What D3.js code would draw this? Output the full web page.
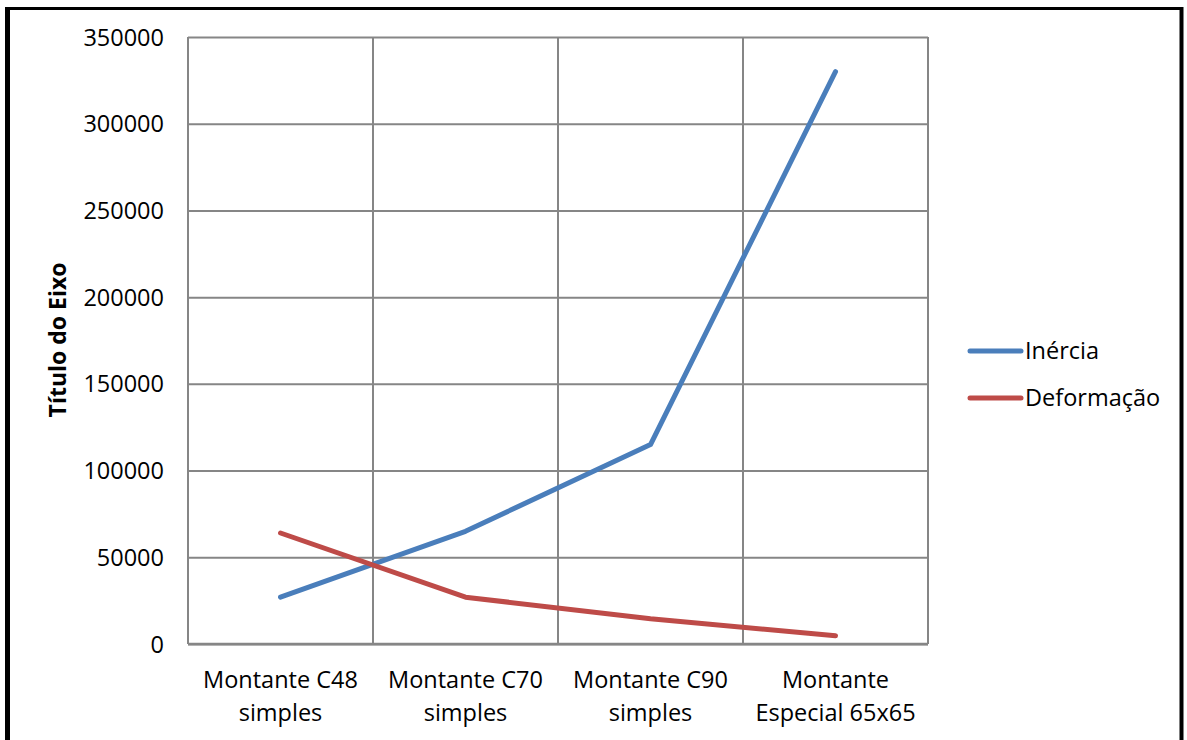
<!DOCTYPE html>
<html>
<head>
<meta charset="utf-8">
<script src="https://cdn.jsdelivr.net/npm/d3@7"></script>
<style>
  html, body { margin: 0; padding: 0; background: #fff; }
  svg { display: block; }
  text { font-family: "Open Sans", "Noto Sans", sans-serif; fill: #000; }
</style>
</head>
<body>
<svg id="chart" width="1187" height="740"></svg>
<script>
const categories = [
  ["Montante C48", "simples"],
  ["Montante C70", "simples"],
  ["Montante C90", "simples"],
  ["Montante", "Especial 65x65"]
];
const categoryKeys = ["C48", "C70", "C90", "E65"];
const inercia = [27000, 65000, 115000, 330000];
const deformacao = [64000, 27000, 14500, 4800];
const yTicks = [0, 50000, 100000, 150000, 200000, 250000, 300000, 350000];
const seriesNames = ["Inércia", "Deformação"];
const seriesColors = ["#4A7EBB", "#BE4B48"];
const yTitle = "Título do Eixo";

const svg = d3.select("#chart");
const W = 1187, H = 740;
const m = { left: 188, right: 928, top: 37, bottom: 644 };
const FS = 23.5;

// outer frame
svg.append("line").attr("x1", 7.5).attr("x2", 7.5).attr("y1", 7).attr("y2", H + 5)
  .attr("stroke", "#000").attr("stroke-width", 5);
svg.append("line").attr("x1", 5).attr("x2", 1183).attr("y1", 8.5).attr("y2", 8.5)
  .attr("stroke", "#000").attr("stroke-width", 3);
svg.append("line").attr("x1", 1181.5).attr("x2", 1181.5).attr("y1", 7).attr("y2", H + 5)
  .attr("stroke", "#000").attr("stroke-width", 4);

const x = d3.scaleBand().domain(categoryKeys).range([m.left, m.right]).padding(0);
const y = d3.scaleLinear().domain([0, 350000]).range([m.bottom, m.top]);
const cx = k => x(k) + x.bandwidth() / 2;

// horizontal gridlines + y labels
const yAxis = d3.axisLeft(y).tickValues(yTicks).tickSize(-(m.right - m.left)).tickFormat(d3.format("d")).tickPadding(24);
const gy = svg.append("g").attr("transform", `translate(${m.left},0)`).call(yAxis);
gy.select(".domain").remove();
gy.selectAll(".tick line").attr("stroke", "#868686").attr("stroke-width", 2);
gy.selectAll(".tick text").attr("font-size", FS).attr("fill", "#000").attr("dy", "0.34em");

// vertical gridlines at category boundaries
const bounds = categoryKeys.map(k => x(k)).concat([m.right]);
svg.append("g").selectAll("line").data(bounds).join("line")
  .attr("x1", d => d).attr("x2", d => d).attr("y1", m.top).attr("y2", m.bottom)
  .attr("stroke", "#868686").attr("stroke-width", 2);

// axis baseline
svg.append("line").attr("x1", m.left).attr("x2", m.right).attr("y1", m.bottom).attr("y2", m.bottom)
  .attr("stroke", "#868686").attr("stroke-width", 2.5);

// x labels
const gx = svg.append("g");
categoryKeys.forEach((k, i) => {
  const t = gx.append("text").attr("x", cx(k)).attr("text-anchor", "middle").attr("font-size", FS);
  t.append("tspan").attr("x", cx(k)).attr("y", 688).text(categories[i][0]);
  t.append("tspan").attr("x", cx(k)).attr("y", 721).text(categories[i][1]);
});

// lines
const line = d3.line().x((d, i) => cx(categoryKeys[i])).y(d => y(d));
[inercia, deformacao].forEach((s, j) => {
  svg.append("path").datum(s).attr("d", line)
    .attr("fill", "none").attr("stroke", seriesColors[j]).attr("stroke-width", 5)
    .attr("stroke-linecap", "round").attr("stroke-linejoin", "round");
});

// y title
svg.append("text").attr("transform", "translate(66,340) rotate(-90)")
  .attr("text-anchor", "middle").attr("font-size", 23).attr("font-weight", "bold").text(yTitle);

// legend
const legY = [351, 398];
seriesNames.forEach((n, j) => {
  svg.append("line").attr("x1", 970).attr("x2", 1021).attr("y1", legY[j]).attr("y2", legY[j])
    .attr("stroke", seriesColors[j]).attr("stroke-width", 5).attr("stroke-linecap", "round");
  svg.append("text").attr("x", 1025).attr("y", legY[j]).attr("dy", "0.35em")
    .attr("font-size", FS).text(n);
});
</script>
</body>
</html>
